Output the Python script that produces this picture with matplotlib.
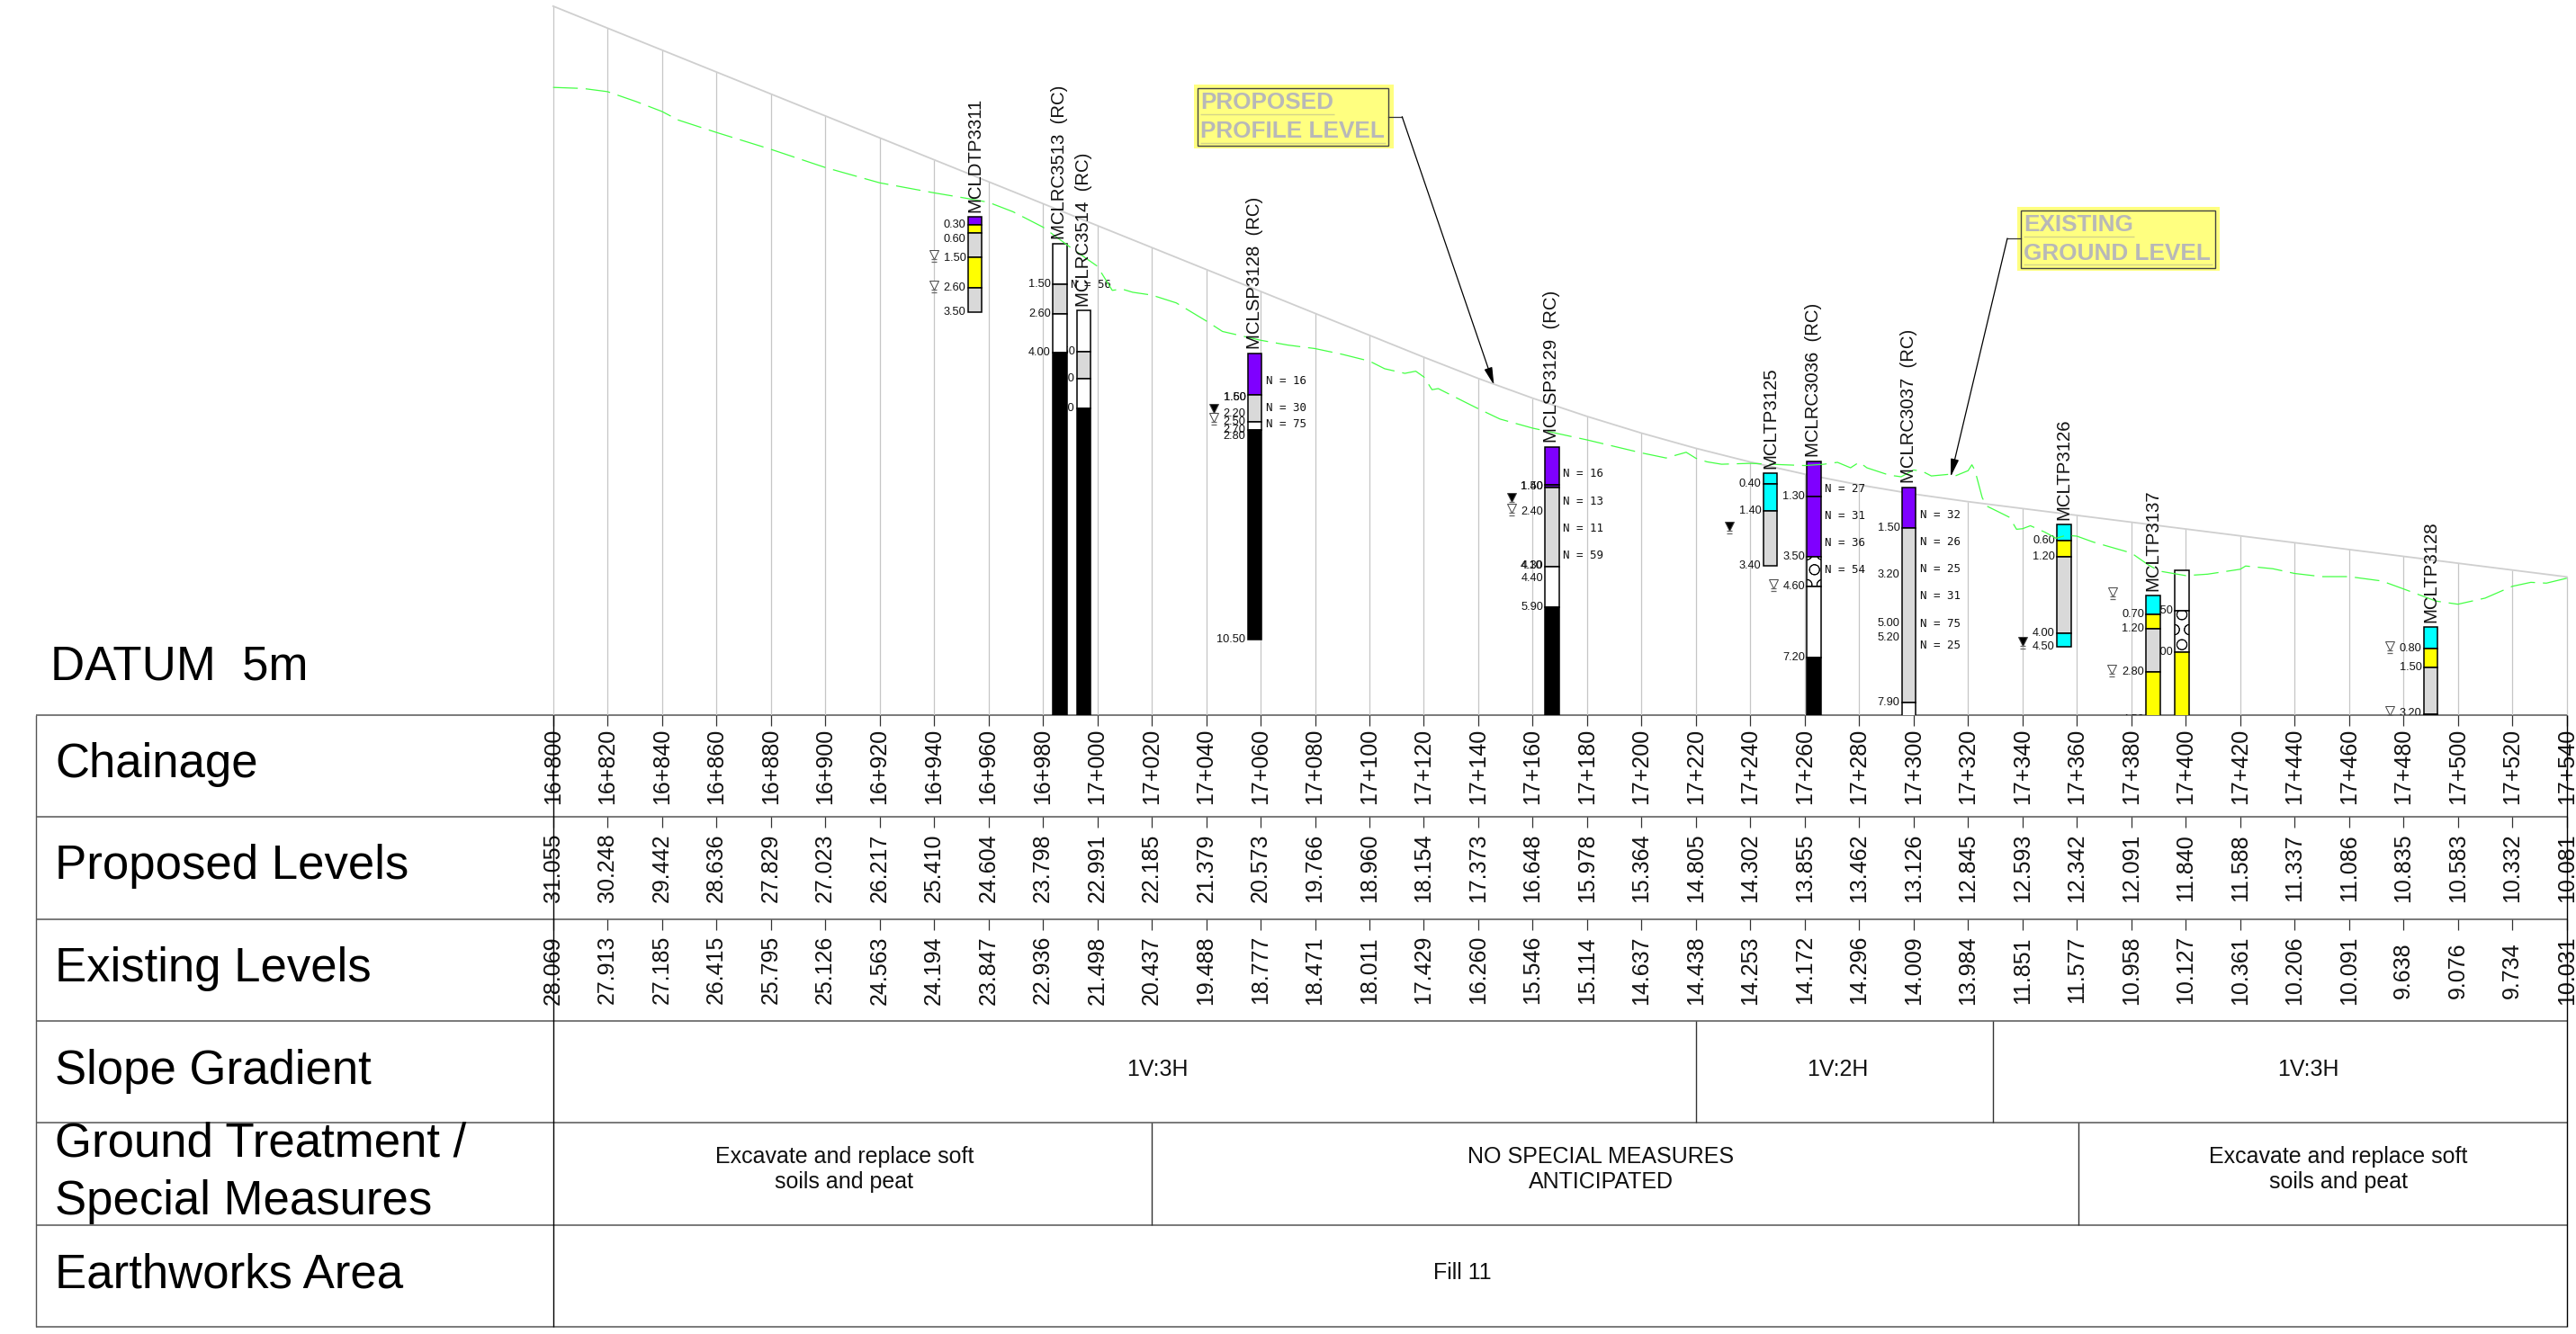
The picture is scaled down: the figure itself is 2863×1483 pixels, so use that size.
import matplotlib
matplotlib.use("Agg")
import matplotlib.pyplot as plt
from matplotlib.patches import Rectangle

plt.rcParams['font.family'] = ['Liberation Sans', 'DejaVu Sans']
plt.rcParams['hatch.linewidth'] = 0.5

# table columns
chainage = [16800 + 0, 16820, 16840, 16860, 16880, 16900, 16920, 16940, 16960, 16980,
            17000, 17020, 17040, 17060, 17080, 17100, 17120, 17140, 17160, 17180,
            17200, 17220, 17240, 17260, 17280, 17300, 17320, 17340, 17360, 17380,
            17400, 17420, 17440, 17460, 17480, 17500, 17520, 17540]
chainage_labels = ["16+800", "16+820", "16+840", "16+860", "16+880", "16+900", "16+920", "16+940",
                   "16+960", "16+980", "17+000", "17+020", "17+040", "17+060", "17+080", "17+100",
                   "17+120", "17+140", "17+160", "17+180", "17+200", "17+220", "17+240", "17+260",
                   "17+280", "17+300", "17+320", "17+340", "17+360", "17+380", "17+400", "17+420",
                   "17+440", "17+460", "17+480", "17+500", "17+520", "17+540"]
proposed_levels = [31.055, 30.248, 29.442, 28.636, 27.829, 27.023, 26.217, 25.410, 24.604, 23.798,
                   22.991, 22.185, 21.379, 20.573, 19.766, 18.960, 18.154, 17.373, 16.648, 15.978,
                   15.364, 14.805, 14.302, 13.855, 13.462, 13.126, 12.845, 12.593, 12.342, 12.091,
                   11.840, 11.588, 11.337, 11.086, 10.835, 10.583, 10.332, 10.081]
existing_labels = ["28.069", "27.913", "27.185", "26.415", "25.795", "25.126", "24.563", "24.194",
                   "23.847", "22.936", "21.498", "20.437", "19.488", "18.777", "18.471", "18.011",
                   "17.429", "16.260", "15.546", "15.114", "14.637", "14.438", "14.253", "14.172",
                   "14.296", "14.009", "13.984", "11.851", "11.577", "10.958", "10.127", "10.361",
                   "10.206", "10.091", "9.638", "9.076", "9.734", "10.031"]

# existing ground line
ground_chainage = [16800, 16811, 16820, 16830.5, 16840, 16846, 16860, 16880, 16900, 16920, 16940,
                   16951.5, 16960, 16969, 16980, 16990, 17000, 17005.5, 17009, 17013, 17020,
                   17029, 17040, 17046, 17060, 17070, 17080, 17090, 17100, 17105.6, 17113, 17117,
                   17120, 17123, 17125.3, 17135, 17140, 17148, 17160, 17180, 17200, 17209, 17216.4,
                   17220, 17224, 17229.4, 17240, 17252.4, 17260, 17267, 17272, 17276.8, 17280,
                   17282.8, 17291, 17295.4, 17300, 17303.2, 17306.5, 17313, 17315, 17320, 17321.4,
                   17322.5, 17325.2, 17326.9, 17331.8, 17335.2, 17337.8, 17340, 17342.9, 17348.3,
                   17352.3, 17356.1, 17360, 17366, 17380, 17386.4, 17390.5, 17400, 17408, 17420,
                   17422, 17432, 17440, 17450, 17460, 17472, 17480, 17492, 17500, 17510, 17520,
                   17526.8, 17532.5, 17540]
ground_levels = [28.069, 28.03, 27.913, 27.55, 27.185, 26.87, 26.415, 25.795, 25.126, 24.563, 24.194,
                 24.0, 23.847, 23.5, 22.936, 22.2, 21.498, 20.61, 20.66, 20.54, 20.437,
                 20.15, 19.488, 19.1, 18.777, 18.6, 18.471, 18.26, 18.011, 17.73, 17.56, 17.64,
                 17.429, 16.96, 17.0, 16.51, 16.260, 15.88, 15.546, 15.114, 14.637, 14.45, 14.66,
                 14.438, 14.31, 14.22, 14.253, 14.2, 14.172, 14.22, 14.29, 14.09, 14.296,
                 14.09, 13.82, 13.76, 14.009, 13.96, 13.79, 13.85, 13.78, 13.984, 14.2,
                 14.0, 12.99, 12.68, 12.44, 12.27, 11.83, 11.851, 11.96, 11.72,
                 11.5, 11.61, 11.577, 11.36, 10.958, 10.51, 10.29, 10.127, 10.18, 10.361,
                 10.48, 10.38, 10.206, 10.09, 10.091, 9.93, 9.638, 9.19, 9.076, 9.3, 9.734,
                 9.88, 9.85, 10.031]

# boreholes
bh_names = ["MCLDTP3311", "MCLRC3513  (RC)", "MCLRC3514  (RC)", "MCLSP3128  (RC)", "MCLSP3129  (RC)",
            "MCLTP3125", "MCLRC3036  (RC)", "MCLRC3037  (RC)", "MCLTP3126", "MCLTP3137", "", "MCLTP3128"]
bh_chainage = [16955, 16986.2, 16995, 17057.8, 17167.1, 17247.3, 17263.3, 17298.2, 17355.2, 17388, 17398.5, 17490]
bh_top = [23.31, 22.33, 19.86, 18.28, 14.86, 13.89, 14.33, 13.37, 12.02, 9.39, 10.32, 8.24]
# depth to the base of each layer and the soil in it
bh_depths = [[0.3, 0.6, 1.5, 2.6, 3.5],
             [1.5, 2.6, 4.0, 18.0],
             [1.5, 2.5, 3.6, 15.0],
             [1.5, 2.5, 2.8, 10.5],
             [1.4, 1.5, 4.4, 5.9, 10.0],
             [0.4, 1.4, 3.4],
             [1.3, 3.5, 4.6, 7.2, 10.0],
             [1.5, 7.9, 8.5],
             [0.6, 1.2, 4.0, 4.5],
             [0.7, 1.2, 2.8, 4.5],
             [1.5, 3.0, 6.0],
             [0.8, 1.5, 3.2, 3.4]]
bh_soils = [["purple", "yellow", "grey", "yellow", "grey"],
            ["white", "grey", "white", "black"],
            ["white", "grey", "white", "black"],
            ["purple", "grey", "white", "black"],
            ["purple", "darkpurple", "grey", "white", "black"],
            ["cyan", "cyan", "grey"],
            ["purple", "purple", "boulder", "white", "black"],
            ["purple", "grey", "white"],
            ["cyan", "yellow", "grey", "cyan"],
            ["cyan", "yellow", "grey", "yellow"],
            ["white", "boulder", "yellow"],
            ["cyan", "yellow", "grey", "black"]]
bh_labels = [["0.30", "0.60", "1.50", "2.60", "3.50"],
             ["1.50", "2.60", "4.00"],
             ["1.50", "2.50", "3.60"],
             ["1.50", "1.60", "2.20", "2.50", "2.70", "2.80", "10.50"],
             ["1.40", "1.50", "2.40", "4.10", "4.30", "4.40", "5.90"],
             ["0.40", "1.40", "3.40"],
             ["1.30", "3.50", "4.60", "7.20"],
             ["1.50", "3.20", "5.00", "5.20", "7.90"],
             ["0.60", "1.20", "4.00", "4.50"],
             ["0.70", "1.20", "2.80", "4.50"],
             ["1.50", "3.00"],
             ["0.80", "1.50", "3.20"]]
# where the depth labels sit, they get pushed apart on the drawing
bh_label_depths = [[0.30, 0.82, 1.51, 2.61, 3.51],
                   [1.5, 2.6, 4.0],
                   [1.5, 2.5, 3.6],
                   [1.6, 1.6, 2.2, 2.5, 2.8, 3.03, 10.5],
                   [1.46, 1.46, 2.4, 4.37, 4.37, 4.83, 5.9],
                   [0.4, 1.4, 3.4],
                   [1.3, 3.5, 4.6, 7.2],
                   [1.5, 3.2, 5.0, 5.52, 7.9],
                   [0.6, 1.2, 4.0, 4.5],
                   [0.7, 1.22, 2.8, 4.55],
                   [1.5, 3.0],
                   [0.8, 1.5, 3.16]]
spt_values = [[], [56], [], [16, 30, 75], [16, 13, 11, 59], [], [27, 31, 36, 54], [32, 26, 25, 31, 75, 25], [], [], [], []]
spt_depths = [[], [1.5], [], [1.0, 2.0, 2.6], [1.0, 2.0, 3.0, 4.0], [], [1.0, 2.0, 3.0, 4.0], [1.0, 2.0, 3.0, 4.0, 5.0, 5.8], [], [], [], []]

# water strikes
water_chainage = [16939.8, 16939.8, 17042.8, 17042.8, 17152.1, 17152.1, 17232.2, 17248.3, 17340.1, 17373, 17372.7, 17474.9, 17474.9]
water_levels = [21.92, 20.81, 16.27, 15.94, 13.0, 12.6, 11.94, 9.82, 7.72, 9.52, 6.69, 7.55, 5.17]
water_filled = [False, False, True, False, True, False, True, False, True, False, False, False, False]

# lower rows of the table
slope_breaks = [17220, 17329]
slope_text = ["1V:3H", "1V:2H", "1V:3H"]
slope_text_chainage = [17022, 17272, 17445]
treatment_breaks = [17020, 17360.7]
treatment_text = ["Excavate and replace soft\nsoils and peat", "NO SPECIAL MEASURES\nANTICIPATED", "Excavate and replace soft\nsoils and peat"]
treatment_text_chainage = [16907, 17185, 17456]
row_names = ["Chainage", "Proposed Levels", "Existing Levels", "Slope Gradient", "Ground Treatment /", "Special Measures", "Earthworks Area"]

W, H = 2863, 1483
X_LEFT = 16596.75
X_RIGHT = 17543.4
Y_TOP = 31.281
rows = [795, 908.3, 1021.6, 1135, 1248.3, 1361.6, 1475]
soil_colors = {"purple": "#7f00ff", "darkpurple": "#5a0fa8", "yellow": "#ffff00", "grey": "#d9d9d9",
               "white": "white", "black": "black", "cyan": "#00ffff", "boulder": "white"}

fig = plt.figure(figsize=(W / 100, H / 100), dpi=100)

# page axes is in pixels, table axes has chainage along x and pixels down y
page = fig.add_axes([0, 0, 1, 1])
page.set_xlim(0, W)
page.set_ylim(H, 0)
page.axis("off")
table = page.twiny()
table.set_xlim(X_LEFT, X_RIGHT)
table.axis("off")

# profile axes: chainage and level, level 5 is the datum on top of the table
ax = fig.add_axes([0, (H - rows[0]) / H, 1, rows[0] / H])
ax.set_xlim(X_LEFT, X_RIGHT)
ax.set_ylim(5, Y_TOP)
ax.axis("off")

ax.vlines(chainage, 5, proposed_levels, color="#c6c6c6", linewidth=0.9, zorder=1)
ax.plot(chainage, proposed_levels, color="#cfcfcf", linewidth=1.3, zorder=1)
ax.plot(ground_chainage, ground_levels, color="#44ff44", linewidth=0.9, linestyle=(0, (22, 7)), zorder=4)

for i in range(len(bh_names)):
    c = bh_chainage[i]
    top = bh_top[i]
    for label, depth in zip(bh_labels[i], bh_label_depths[i]):
        ax.text(c - 3.3, top - depth, label, ha="right", va="center", fontsize=9.2,
                color="#111111", zorder=2, clip_on=True)
    for value, depth in zip(spt_values[i], spt_depths[i]):
        ax.text(c + 4.1, top - depth, "N = %d" % value, ha="left", va="center", fontsize=9,
                family="DejaVu Sans Mono", color="#111111", zorder=2, clip_on=True)
    previous = 0
    for depth, soil in zip(bh_depths[i], bh_soils[i]):
        ax.bar(c, depth - previous, bottom=top - depth, width=5.2, color=soil_colors[soil], edgecolor="black",
               linewidth=1.1, zorder=3, hatch="O" if soil == "boulder" else None)
        previous = depth
    if bh_names[i]:
        ax.annotate(bh_names[i], (c, top), xytext=(0, 3.5), textcoords="offset points", rotation=90,
                    ha="center", va="bottom", fontsize=14.7, color="#111111", zorder=5)

for c, level, filled in zip(water_chainage, water_levels, water_filled):
    ax.plot(c, level, marker="v", markersize=6.5, markerfacecolor="black" if filled else "white",
            markeredgecolor="#444444", markeredgewidth=0.7, linestyle="none", zorder=2)
    ax.plot([c, c], [level - 0.17, level - 0.27], marker="_", markersize=5, color="#666666",
            markeredgewidth=0.9, linestyle="none", zorder=2)

# table frame
page.hlines(rows, 40, 2853, color="#555555", linewidth=1.1)
page.vlines(40, rows[0], rows[-1], color="#555555", linewidth=1.0)
table.vlines([16800, 17540], rows[0], rows[-1], color="black", linewidth=1.0, zorder=5)
table.vlines(slope_breaks, rows[3], rows[4], color="#333333", linewidth=1.0)
table.vlines(treatment_breaks, rows[4], rows[5], color="#333333", linewidth=1.0)

# three rows of rotated values with a tick above each
values = [chainage_labels, ["%.3f" % v for v in proposed_levels], existing_labels]
for r in range(3):
    table.vlines(chainage, rows[r], rows[r] + 12, color="#333333", linewidth=0.9)
    middle = (rows[r] + rows[r + 1]) / 2
    for c, text in zip(chainage, values[r]):
        table.text(c, middle, text, rotation=90, ha="center", va="center", fontsize=18, color="#111111")

for c, text in zip(slope_text_chainage, slope_text):
    table.text(c, 1189, text, ha="center", va="center", fontsize=18, color="#111111")
for c, text in zip(treatment_text_chainage, treatment_text):
    table.text(c, 1300, text, ha="center", va="center", multialignment="center", fontsize=18, color="#111111")
table.text(17134, 1415, "Fill 11", ha="center", va="center", fontsize=18, color="#111111")

# row names
page.text(55.8, 755.8, "DATUM  5m", fontsize=38, va="baseline", color="black")
for name, y in zip(row_names, [864.3, 977, 1090.6, 1204.8, 1285, 1349.7, 1431.7]):
    page.text(61, y, name, fontsize=38, va="baseline", color="black")

# callouts
page.add_patch(Rectangle((1326.7, 94.3), 222.6, 70.7, facecolor="#ffff80", edgecolor="none"))
page.add_patch(Rectangle((1330.7, 97.7), 212.6, 64, facecolor="none", edgecolor="#444444", linewidth=1.0))
page.text(1334, 120.7, "PROPOSED", fontsize=18.8, fontweight="bold", color="#b8b8b8", va="baseline")
page.text(1334, 153.3, "PROFILE LEVEL", fontsize=18.8, fontweight="bold", color="#b8b8b8", va="baseline")
page.hlines(126.7, 1334, 1483, color="#d4d48a", linewidth=1.0)
page.hlines(159, 1334, 1540, color="#d4d48a", linewidth=1.0)
page.plot([1543.3, 1558.3], [129.7, 129.7], color="#333333", linewidth=0.9)
page.annotate("", xy=(1660.5, 428.3), xytext=(1558.3, 129.7),
              arrowprops=dict(arrowstyle="-|>,head_length=1.0,head_width=0.23", mutation_scale=12,
                              color="black", linewidth=0.9, shrinkA=0, shrinkB=0))

page.add_patch(Rectangle((2242, 230), 225.3, 71, facecolor="#ffff80", edgecolor="none"))
page.add_patch(Rectangle((2245.7, 234), 216.6, 63.7, facecolor="none", edgecolor="#444444", linewidth=1.0))
page.text(2249.3, 257.3, "EXISTING", fontsize=18.8, fontweight="bold", color="#b8b8b8", va="baseline")
page.text(2249.3, 289, "GROUND LEVEL", fontsize=18.8, fontweight="bold", color="#b8b8b8", va="baseline")
page.hlines(262.7, 2249, 2372, color="#d4d48a", linewidth=1.0)
page.hlines(294.3, 2249, 2459, color="#d4d48a", linewidth=1.0)
page.plot([2245.7, 2231], [265, 265], color="#333333", linewidth=0.9)
page.annotate("", xy=(2168, 530), xytext=(2231, 265),
              arrowprops=dict(arrowstyle="-|>,head_length=1.0,head_width=0.23", mutation_scale=12,
                              color="black", linewidth=0.9, shrinkA=0, shrinkB=0))

fig.savefig("out.png", dpi=100)
